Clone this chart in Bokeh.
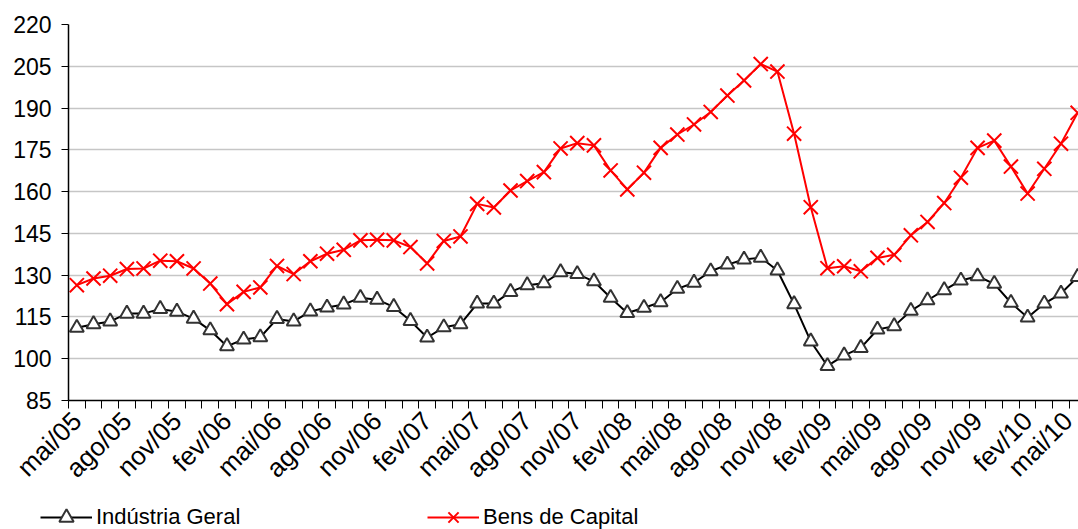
import math
from bokeh.plotting import figure
from bokeh.layouts import column, row
from bokeh.models import ColumnDataSource, FixedTicker, Range1d, Legend, LegendItem
from bokeh.embed import file_html
from bokeh.resources import INLINE

months = ["mai/05", "jun/05", "jul/05", "ago/05", "set/05", "out/05", "nov/05", "dez/05",
          "jan/06", "fev/06", "mar/06", "abr/06", "mai/06", "jun/06", "jul/06", "ago/06",
          "set/06", "out/06", "nov/06", "dez/06", "jan/07", "fev/07", "mar/07", "abr/07",
          "mai/07", "jun/07", "jul/07", "ago/07", "set/07", "out/07", "nov/07", "dez/07",
          "jan/08", "fev/08", "mar/08", "abr/08", "mai/08", "jun/08", "jul/08", "ago/08",
          "set/08", "out/08", "nov/08", "dez/08", "jan/09", "fev/09", "mar/09", "abr/09",
          "mai/09", "jun/09", "jul/09", "ago/09", "set/09", "out/09", "nov/09", "dez/09",
          "jan/10", "fev/10", "mar/10", "abr/10", "mai/10"]

industria_geral = [111.1, 112.4, 113.4, 116.2, 116.2, 117.9, 116.9, 114.4, 110.2, 104.5,
                   106.9, 107.7, 114.3, 113.4, 117.0, 118.4, 119.5, 121.9, 121.2, 118.6,
                   113.6, 107.6, 111.3, 112.4, 119.8, 119.8, 124.0, 126.4, 127.1, 131.1,
                   130.4, 127.8, 121.9, 116.4, 118.3, 120.3, 125.1, 127.3, 131.4, 133.8,
                   135.6, 136.3, 131.7, 119.6, 106.2, 97.4, 101.2, 103.9, 110.5, 111.7,
                   117.2, 121.0, 124.6, 128.1, 129.6, 126.9, 120.1, 114.8, 119.8, 123.4,
                   129.4]

bens_de_capital = [126.4, 128.8, 129.8, 132.2, 132.4, 135.2, 135.0, 132.4, 127.0, 119.6,
                   124.0, 125.6, 133.3, 130.4, 135.0, 137.7, 139.1, 142.5, 142.7, 142.5,
                   140.1, 134.2, 142.3, 143.9, 155.6, 154.3, 160.4, 163.8, 167.0, 175.5,
                   177.4, 176.6, 167.6, 160.8, 166.8, 175.7, 180.5, 184.1, 188.6, 194.5,
                   199.9, 205.8, 203.1, 180.8, 154.4, 132.5, 133.2, 131.4, 136.2, 137.3,
                   144.3, 149.1, 155.9, 165.0, 175.7, 178.3, 169.0, 159.3, 168.2, 177.2,
                   188.3]

series_names = ["Indústria Geral", "Bens de Capital"]
y_ticks = [85, 100, 115, 130, 145, 160, 175, 190, 205, 220]
label_every = 3

FONT = "Liberation Sans"
BLACK_LINE = dict(line_color="black", line_width=2)
TRI = dict(marker="triangle", size=14, line_color="#333333", line_width=2, fill_color="white")
RED_LINE = dict(line_color="#ff0000", line_width=2)
XM = dict(marker="x", size=20, line_color="#ff0000", line_width=2)

xs = list(range(len(months)))
src = ColumnDataSource(dict(x=xs, ig=industria_geral, bc=bens_de_capital))

W = 1078
LEFT = 68
MAIN_H = 498
p = figure(width=W, height=MAIN_H, output_backend="svg", toolbar_location=None,
           x_range=Range1d(-0.5, len(months) - 0.95), y_range=Range1d(y_ticks[0], y_ticks[-1]),
           min_border_left=LEFT, min_border_right=0, min_border_top=24,
           min_border_bottom=MAIN_H - 400)
p.outline_line_color = None

p.xgrid.grid_line_color = None
p.ygrid.grid_line_color = "#c6c6c6"
p.ygrid.grid_line_width = 1.5

p.yaxis.ticker = FixedTicker(ticks=y_ticks, minor_ticks=[])
p.yaxis.axis_line_color = "black"
p.yaxis.axis_line_width = 1.5
p.yaxis.major_tick_line_color = "black"
p.yaxis.major_tick_out = 7
p.yaxis.major_tick_in = 0
p.yaxis.minor_tick_line_color = None
p.yaxis.major_label_standoff = 10
p.yaxis.major_label_text_font = FONT
p.yaxis.major_label_text_font_size = "23px"
p.yaxis.major_label_text_color = "black"

label_pos = xs[::label_every]
p.xaxis.ticker = FixedTicker(ticks=label_pos, minor_ticks=[i - 0.5 for i in range(len(months) + 1)])
p.xaxis.major_label_overrides = {i: months[i] for i in label_pos}
p.xaxis.major_label_orientation = math.pi / 4
p.xaxis.axis_line_color = "black"
p.xaxis.axis_line_width = 1.5
p.xaxis.major_tick_out = 0
p.xaxis.major_tick_in = 0
p.xaxis.minor_tick_out = 8
p.xaxis.minor_tick_in = 0
p.xaxis.minor_tick_line_color = "black"
p.xaxis.major_label_standoff = 8
p.xaxis.major_label_text_font = FONT
p.xaxis.major_label_text_font_size = "26px"
p.xaxis.major_label_text_color = "black"

p.line("x", "ig", source=src, **BLACK_LINE)
p.scatter("x", "ig", source=src, **TRI)
p.line("x", "bc", source=src, **RED_LINE)
p.scatter("x", "bc", source=src, **XM)

# legend strip below the chart
LEG_H = 529 - MAIN_H
leg = figure(width=W, height=LEG_H, output_backend="svg", toolbar_location=None,
             x_range=Range1d(0, 1), y_range=Range1d(0, 1),
             min_border=0, outline_line_color=None)
leg.axis.visible = False
leg.grid.visible = False
# swatch renderers sit outside the visible range; they only feed the legend glyphs
off = ColumnDataSource(dict(x=[-5, -4], y=[-5, -4]))
s1 = leg.line("x", "y", source=off, **BLACK_LINE)
s2 = leg.scatter("x", "y", source=off, **TRI)
s3 = leg.line("x", "y", source=off, **RED_LINE)
s4 = leg.scatter("x", "y", source=off, **XM)
GH = 36
legend = Legend(items=[LegendItem(label=series_names[0], renderers=[s1, s2], index=0),
                       LegendItem(label=series_names[1], renderers=[s3, s4], index=0)],
                orientation="horizontal", location=(40, (529 - 517) - GH // 2),
                glyph_width=52, glyph_height=GH, label_height=GH, label_width=300,
                label_standoff=4, spacing=31, padding=0, margin=0,
                border_line_color=None, background_fill_alpha=0,
                label_text_font=FONT, label_text_font_size="22px", label_text_color="black")
leg.add_layout(legend, "center")

layout = column(p, row(leg, spacing=0), spacing=0)
open("out.html", "w").write(file_html(layout, INLINE))
